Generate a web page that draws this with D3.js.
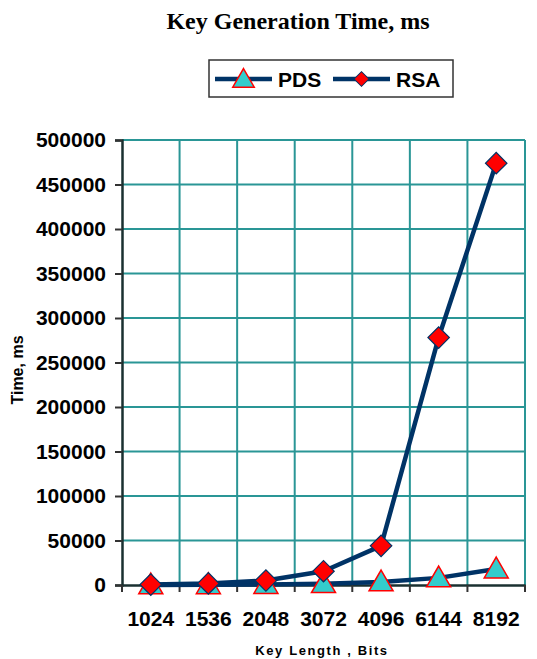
<!DOCTYPE html>
<html><head><meta charset="utf-8">
<script src="https://cdn.jsdelivr.net/npm/d3@7/dist/d3.min.js"></script>
<style>body{margin:0;background:#fff}svg{display:block}</style>
</head><body>
<script>
const categories = ["1024","1536","2048","3072","4096","6144","8192"];
const pdsValues = [100, 300, 600, 1500, 3500, 8000, 18000];
const rsaValues = [500, 1800, 5000, 15500, 44000, 278000, 474000];
const yTicks = [0,50000,100000,150000,200000,250000,300000,350000,400000,450000,500000];
const seriesNames = ["PDS","RSA"];

const W=537,H=659;
const svg=d3.select("body").append("svg").attr("width",W).attr("height",H);
const L=122,R=525,T=140,B=585;
const x=d3.scaleBand().domain(categories).range([L,R]);
const y=d3.scaleLinear().domain([0,500000]).range([B,T]);
const grid="#2a9696";

// title
svg.append("text").attr("x",298).attr("y",29).attr("text-anchor","middle")
 .attr("font-family","Liberation Serif, Times New Roman, serif").attr("font-weight","bold")
 .attr("font-size",24).text("Key Generation Time, ms");

// grid
const g=svg.append("g");
g.selectAll(".hg").data(yTicks.slice(1)).enter().append("line")
 .attr("x1",L).attr("x2",R).attr("y1",d=>y(d)).attr("y2",d=>y(d))
 .attr("stroke",grid).attr("stroke-width",2);
const bounds=categories.map(c=>x(c)+x.bandwidth()).slice(0,-1);
g.selectAll(".vg").data(bounds).enter().append("line")
 .attr("x1",d=>d).attr("x2",d=>d).attr("y1",T).attr("y2",B)
 .attr("stroke",grid).attr("stroke-width",2);
g.append("line").attr("x1",R).attr("x2",R).attr("y1",T).attr("y2",B).attr("stroke",grid).attr("stroke-width",2);

// y axis
const ya=svg.append("g").attr("transform",`translate(${L},0)`)
 .call(d3.axisLeft(y).tickValues(yTicks).tickSize(7).tickPadding(9).tickFormat(d3.format("d")));
ya.select(".domain").attr("stroke","#1a3030").attr("stroke-width",2.5);
ya.selectAll(".tick line").attr("stroke","#333").attr("stroke-width",2);
ya.selectAll("text").attr("font-family","Liberation Sans, Arial, sans-serif").attr("font-weight","bold").attr("font-size",21).attr("fill","#000");

// x axis
const xa=svg.append("g").attr("transform",`translate(0,${B})`)
 .call(d3.axisBottom(x).tickSize(0).tickPadding(26));
xa.select(".domain").attr("stroke","#1a3030").attr("stroke-width",2.5);
xa.selectAll("text").attr("font-family","Liberation Sans, Arial, sans-serif").attr("font-weight","bold").attr("font-size",21).attr("fill","#000").attr("dy","0.71em");
svg.append("g").selectAll("line").data([L,...bounds,R]).enter().append("line")
 .attr("x1",d=>d).attr("x2",d=>d).attr("y1",B).attr("y2",B+7).attr("stroke","#333").attr("stroke-width",2);

// axis titles
svg.append("text").attr("x",322).attr("y",655).attr("text-anchor","middle")
 .attr("font-family","Liberation Sans, Arial, sans-serif").attr("font-weight","bold").attr("font-size",13)
 .attr("letter-spacing","1.6px").text("Key Length , Bits");
svg.append("text").attr("transform","translate(23,370) rotate(-90)").attr("text-anchor","middle")
 .attr("font-family","Liberation Sans, Arial, sans-serif").attr("font-weight","bold").attr("font-size",16)
 .text("Time, ms");

const cx=c=>x(c)+x.bandwidth()/2;
const line=d3.line().x((d,i)=>cx(categories[i])).y(d=>y(d));
const lineColor="#003366";
const tri=d3.symbol().type(d3.symbolTriangle).size(250);
const dia=d3.symbol().type(d3.symbolSquare).size(230);

function drawSeries(vals){
  svg.append("path").datum(vals).attr("d",line).attr("fill","none").attr("stroke",lineColor).attr("stroke-width",4.5).attr("stroke-linejoin","round");
}
function drawTri(vals){
  svg.append("g").selectAll("path").data(vals).enter().append("path")
   .attr("d",tri).attr("transform",(d,i)=>`translate(${cx(categories[i])},${y(d)+2})`)
   .attr("fill","#33CCCC").attr("stroke","#FF0000").attr("stroke-width",1.5);
}
function drawDia(vals){
  svg.append("g").selectAll("path").data(vals).enter().append("path")
   .attr("d",dia).attr("transform",(d,i)=>`translate(${cx(categories[i])},${y(d)}) rotate(45)`)
   .attr("fill","#FF0000").attr("stroke","#003366").attr("stroke-width",1.2);
}
drawSeries(pdsValues);
drawSeries(rsaValues);
drawTri(pdsValues);
drawDia(rsaValues);

// legend
const lg=svg.append("g");
lg.append("rect").attr("x",209).attr("y",60).attr("width",244).attr("height",37).attr("fill","#fff").attr("stroke","#333").attr("stroke-width",1.5);
const items=[{n:seriesNames[0],x:215},{n:seriesNames[1],x:333}];
items.forEach((it,i)=>{
  lg.append("line").attr("x1",it.x).attr("x2",it.x+57).attr("y1",79).attr("y2",79).attr("stroke",lineColor).attr("stroke-width",4.5);
  if(i===0){
    lg.append("path").attr("d",d3.symbol().type(d3.symbolTriangle).size(200)).attr("transform",`translate(${it.x+28.5},81)`)
     .attr("fill","#33CCCC").attr("stroke","#FF0000").attr("stroke-width",1.5);
  } else {
    lg.append("path").attr("d",d3.symbol().type(d3.symbolSquare).size(110)).attr("transform",`translate(${it.x+28.5},79) rotate(45)`)
     .attr("fill","#FF0000").attr("stroke","#003366").attr("stroke-width",1);
  }
  lg.append("text").attr("x",it.x+63).attr("y",87).attr("font-family","Liberation Sans, Arial, sans-serif").attr("font-weight","bold").attr("font-size",21).text(it.n);
});
</script>
</body></html>
